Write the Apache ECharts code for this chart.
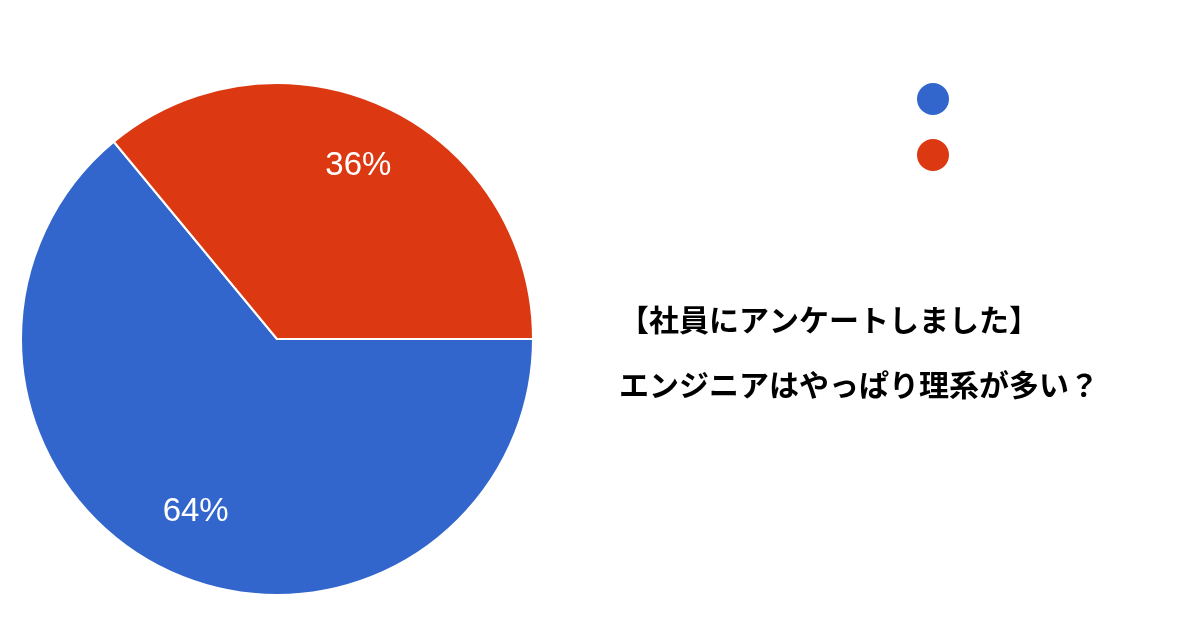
<!DOCTYPE html>
<html>
<head>
<meta charset="utf-8">
<script src="https://cdn.jsdelivr.net/npm/echarts@6/dist/echarts.min.js"></script>
<style>
    html, body { margin: 0; padding: 0; background: #fff; }
    #pieChart { width: 1200px; height: 630px; }
</style>
</head>
<body>
<div id="pieChart"></div>
<script>
// アンケート結果
var categories = ['理系', '文系'];
var values = [64, 36];
var colors = ['#3366cc', '#dc3912'];
var titleLines = ['【社員にアンケートしました】', 'エンジニアはやっぱり理系が多い？'];

initSurveyPie();

/**
 * 円グラフ初期化
 */
function initSurveyPie() {
    var dom = document.getElementById("pieChart");
    var myChart = echarts.init(dom);

    var pieData = categories.map(function (name, i) {
        return { value: values[i], name: name, itemStyle: { color: colors[i] } };
    });
    // ラベル用（透明）
    var labelData = categories.map(function (name, i) {
        return { value: values[i], name: name };
    });

    var option = {
        backgroundColor: '#fff',
        animation: false,
        title: {
            text: titleLines.join('\n'),
            left: 614,
            top: 282,
            textStyle: {
                fontFamily: 'Noto Sans CJK JP',
                fontSize: 30,
                fontWeight: 'bold',
                color: '#000',
                lineHeight: 65
            }
        },
        legend: {
            orient: 'vertical',
            left: 910,
            top: 76,
            icon: 'circle',
            itemWidth: 34,
            itemHeight: 34,
            itemGap: 20,
            data: categories,
            formatter: function () { return ''; }
        },
        series: [
            {
                name: 'アンケート',
                type: 'pie',
                center: [277, 339],
                radius: [0, 256],
                startAngle: 0,
                clockwise: true,
                data: pieData,
                label: { show: false },
                labelLine: { show: false },
                itemStyle: {
                    borderColor: '#fff',
                    borderWidth: 2
                },
                emphasis: { disabled: true }
            },
            {
                name: 'ラベル',
                type: 'pie',
                center: [277, 339],
                radius: [120, 256],
                startAngle: 0,
                clockwise: true,
                silent: true,
                data: labelData,
                itemStyle: {
                    color: 'rgba(0,0,0,0)',
                    borderWidth: 0
                },
                label: {
                    show: true,
                    position: 'inside',
                    formatter: '{d}%',
                    color: '#fff',
                    fontSize: 33,
                    fontFamily: 'Liberation Sans'
                },
                labelLine: { show: false },
                emphasis: { disabled: true }
            }
        ]
    };

    if (option && typeof option === "object") {
        myChart.setOption(option, true);
    }
}
</script>
</body>
</html>
